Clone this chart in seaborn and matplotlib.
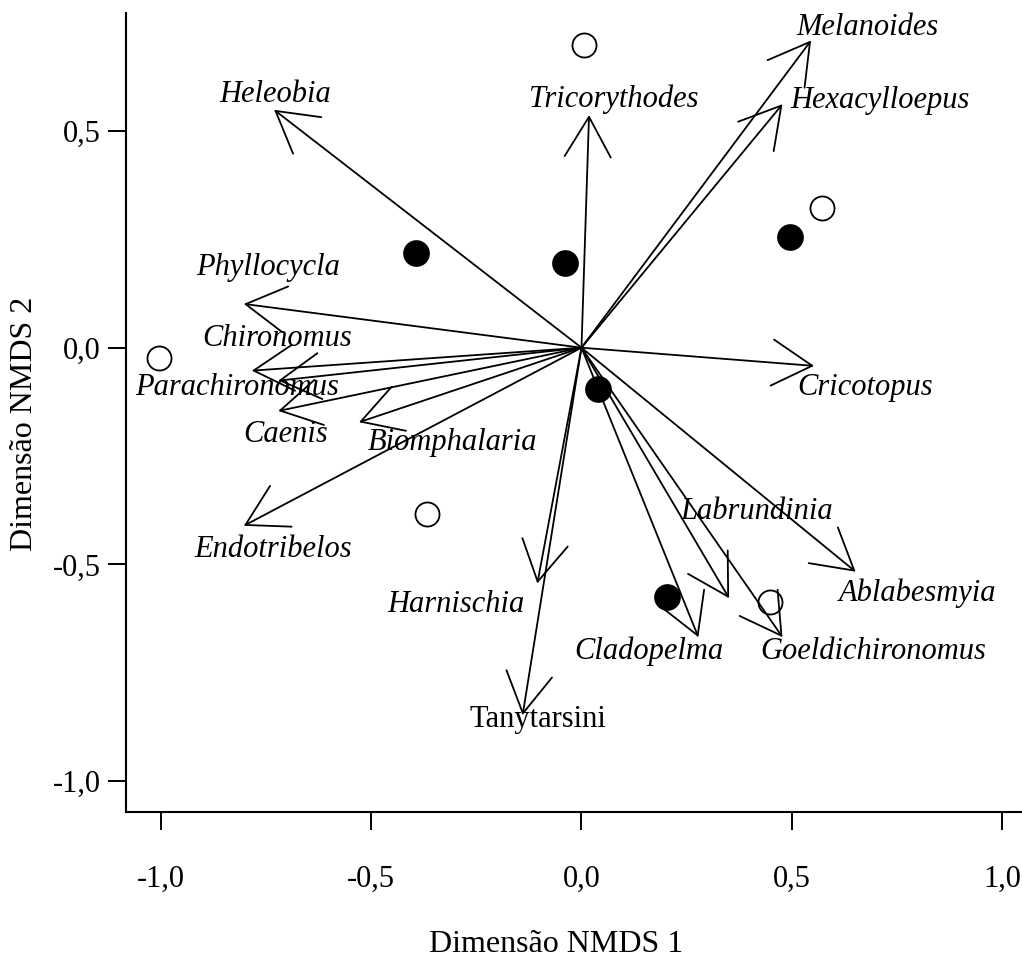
import matplotlib
matplotlib.use("Agg")
import matplotlib.pyplot as plt
import seaborn as sns
import pandas as pd

# Site scores on the two NMDS axes
open_x = [0.006, -1.004, -0.368, 0.573, 0.448]
open_y = [0.699, -0.024, -0.384, 0.322, -0.586]
filled_x = [-0.394, -0.039, 0.040, 0.496, 0.204]
filled_y = [0.218, 0.195, -0.096, 0.255, -0.576]

# Taxon vectors (arrow tips) and where their names are written
species = ["Heleobia", "Tricorythodes", "Melanoides", "Hexacylloepus",
           "Phyllocycla", "Chironomus", "Parachironomus", "Caenis",
           "Biomphalaria", "Endotribelos", "Cricotopus", "Harnischia",
           "Tanytarsini", "Cladopelma", "Labrundinia", "Goeldichironomus",
           "Ablabesmyia"]
arrow_x = [-0.731, 0.018, 0.546, 0.478, -0.803, -0.784, -0.721, -0.721,
           -0.529, -0.803, 0.553, -0.105, -0.140, 0.278, 0.351, 0.478, 0.652]
arrow_y = [0.549, 0.537, 0.709, 0.562, 0.101, -0.053, -0.076, -0.146,
           -0.172, -0.411, -0.042, -0.544, -0.848, -0.668, -0.578, -0.668, -0.517]
label_x = [-0.729, 0.077, 0.679, 0.710, -0.746, -0.723, -0.820, -0.704,
           -0.308, -0.734, 0.674, -0.298, -0.103, 0.161, 0.417, 0.693, 0.800]
label_y = [0.585, 0.574, 0.740, 0.571, 0.186, 0.022, -0.091, -0.201,
           -0.218, -0.465, -0.091, -0.592, -0.859, -0.700, -0.379, -0.702, -0.566]
upright = {"Tanytarsini"}

x_ticks = [-1.0, -0.5, 0.0, 0.5, 1.0]
x_ticklabels = ["-1,0", "-0,5", "0,0", "0,5", "1,0"]
y_ticks = [-1.0, -0.5, 0.0, 0.5]
y_ticklabels = ["-1,0", "-0,5", "0,0", "0,5"]

sns.set_theme(style="ticks")
plt.rcParams["font.family"] = ["Liberation Serif", "DejaVu Serif"]

fig = plt.figure(figsize=(10.22, 9.61), dpi=100)
W, H = 1022, 961
ax = fig.add_axes([126 / W, 149 / H, (1022 - 126) / W, (812 - 13) / H])

sites_open = pd.DataFrame({"x": open_x, "y": open_y})
sites_filled = pd.DataFrame({"x": filled_x, "y": filled_y})
sns.scatterplot(data=sites_open, x="x", y="y", ax=ax, s=300,
                facecolor="white", edgecolor="black", linewidth=1.3, zorder=3)
sns.scatterplot(data=sites_filled, x="x", y="y", ax=ax, s=370,
                color="black", edgecolor="black", linewidth=0, zorder=3)

for name, ax_, ay_, lx, ly in zip(species, arrow_x, arrow_y, label_x, label_y):
    ax.annotate("", xy=(ax_, ay_), xytext=(0, 0),
                arrowprops=dict(arrowstyle="->,head_length=28.8,head_width=16.6",
                                mutation_scale=1, lw=1.3, color="black",
                                shrinkA=0, shrinkB=0),
                zorder=4)
    ax.text(lx, ly, name, ha="center", va="center", fontsize=22,
            style="normal" if name in upright else "italic", color="black",
            zorder=5)

ax.set_xlim(-1.0832, 1.0476)
ax.set_ylim(-1.0715, 0.7724)
ax.set_xticks(x_ticks)
ax.set_xticklabels(x_ticklabels)
ax.set_yticks(y_ticks)
ax.set_yticklabels(y_ticklabels)
ax.tick_params(axis="both", direction="out", length=13, width=1.4,
               color="black", labelsize=22, labelcolor="black")
ax.tick_params(axis="x", pad=25)
ax.tick_params(axis="y", pad=5)
ax.set_xlabel("")
ax.set_ylabel("")
sns.despine(ax=ax)
for side in ("left", "bottom"):
    ax.spines[side].set_linewidth(1.5)
    ax.spines[side].set_color("black")
ax.set_facecolor("white")
fig.patch.set_facecolor("white")

fig.text(556 / W, 1 - 945 / H, "Dimensão NMDS 1", ha="center", va="center",
         fontsize=23, color="black")
fig.text(25 / W, 1 - 424 / H, "Dimensão NMDS 2", ha="center", va="center",
         rotation=90, fontsize=23, color="black")

fig.savefig("out.png", dpi=100, facecolor="white")
